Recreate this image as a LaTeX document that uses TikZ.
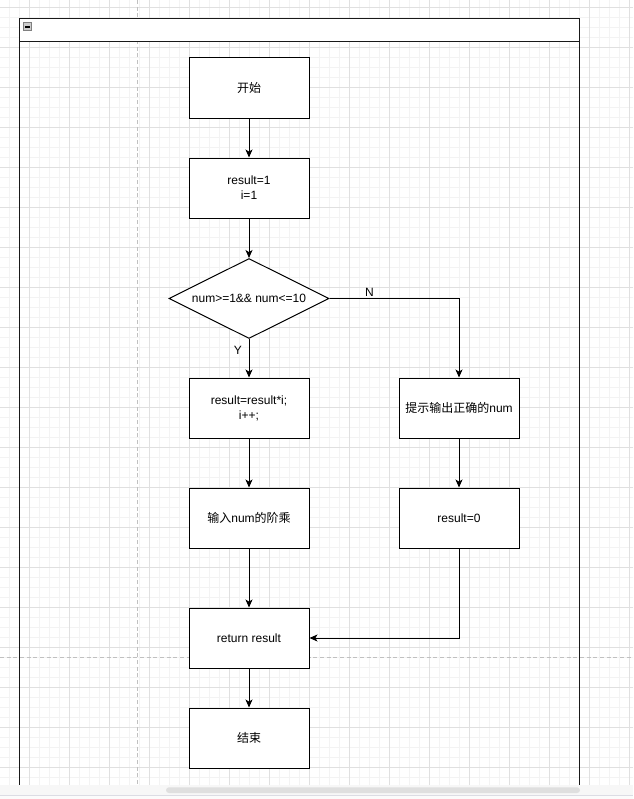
\documentclass[tikz,border=0pt]{standalone}
\usepackage{fontspec}
\setmainfont{Liberation Sans}
\newfontfamily\cjk{Noto Sans CJK SC}
\usetikzlibrary{arrows.meta,shapes.geometric,positioning}
\definecolor{gridminor}{HTML}{F3F3F3}
\definecolor{gridmajor}{HTML}{E0E0E0}
\definecolor{pagebreak}{HTML}{C0C0C0}
\definecolor{barback}{HTML}{F7F7F7}
\definecolor{barline}{HTML}{DCDCE4}
\definecolor{barthumb}{HTML}{DFDFDF}
\tikzset{
  blk/.style={
    draw,
    fill = white,
    line width = 0.75pt,
    minimum width = 90pt,
    minimum height = 45pt,
    inner sep = 0pt,
    align = center,
    font = \fontsize{9}{11.25}\selectfont
  },
  cond/.style={
    blk,
    shape = diamond,
    aspect = 2,
    minimum width = 120pt,
    minimum height = 60pt
  },
  flow/.style={
    line width = 0.75pt,
    -{Stealth[length=6pt,width=5.25pt,inset=1.6pt]}
  },
  lbl/.style={
    inner sep = 0pt,
    font = \fontsize{9}{11}\selectfont
  },
  frame/.style={
    draw = black!90,
    line width = 0.75pt
  },
  pageline/.style={
    draw = pagebreak,
    line width = 0.75pt,
    dash pattern = on 3pt off 2pt
  }
}

\begin{document}
\begin{tikzpicture}[x=0.75pt, y=-0.75pt]
  \useasboundingbox (0,0) rectangle (633,799);
  \fill[white] (0,0) rectangle (633,799);
  \foreach \gx in {9.3,19.3,...,629.3}
    \draw[gridminor, line width=0.75pt] (\gx,0) -- (\gx,799);
  \foreach \gy in {7.3,17.3,...,797.3}
    \draw[gridminor, line width=0.75pt] (0,\gy) -- (633,\gy);
  \foreach \gx in {29.3,69.3,...,629.3}
    \draw[gridmajor, line width=0.75pt] (\gx,0) -- (\gx,799);
  \foreach \gy in {7.3,47.3,...,797.3}
    \draw[gridmajor, line width=0.75pt] (0,\gy) -- (633,\gy);
  \draw[pageline] (137,0) -- (137,799);
  \draw[pageline] (0,657.3) -- (633,657.3);

  \draw[frame] (19.3,18.7) rectangle (579.3,790);
  \draw[frame, fill=white] (19.3,18.7) rectangle (579.3,41.3);
  \draw[gray, fill=gray!40, line width=0.5pt] (23.5,22.8) rectangle (31.5,30.8);
  \draw[black, line width=1.2pt] (25.3,26.8) -- (29.7,26.8);

  \node[blk] (start) at (249,88) {{\cjk 开始}};
  \node[blk] (init) at (249,188) {result=1\\i=1};
  \node[cond] (check) at (249,298.5) {num>=1\&\& num<=10};
  \node[blk] (loop) at (249,408) {result=result*i;\\i++;};
  \node[blk] (hint) at (459,408) {{\cjk 提示输出正确的}num};
  \node[blk] (fact) at (249,518) {{\cjk 输入}num{\cjk 的阶乘}};
  \node[blk] (zero) at (459,518) {result=0};
  \node[blk] (ret) at (249,638) {return result};
  \node[blk] (stop) at (249,738) {{\cjk 结束}};

  \draw[flow] (start) -- (init);
  \draw[flow] (init) -- (check);
  \draw[flow] (check) -- node[lbl, pos=0.3, left=5pt] {Y} (loop);
  \draw[flow] (check.east) -| node[lbl, pos=0.154, above=1.5pt] {N} (hint);
  \draw[flow] (loop) -- (fact);
  \draw[flow] (fact) -- (ret);
  \draw[flow] (hint) -- (zero);
  \draw[flow] (zero.south) |- (ret.east);
  \draw[flow] (ret) -- (stop);

  \fill[barback] (0,784.7) rectangle (633,795);
  \draw[barline, line width=0.75pt] (0,795.3) -- (633,795.3);
  \fill[white!97!gray] (0,795.7) rectangle (633,799);
  \fill[barthumb, rounded corners=2.2pt] (166,787.3) rectangle (580,793);
\end{tikzpicture}
\end{document}
